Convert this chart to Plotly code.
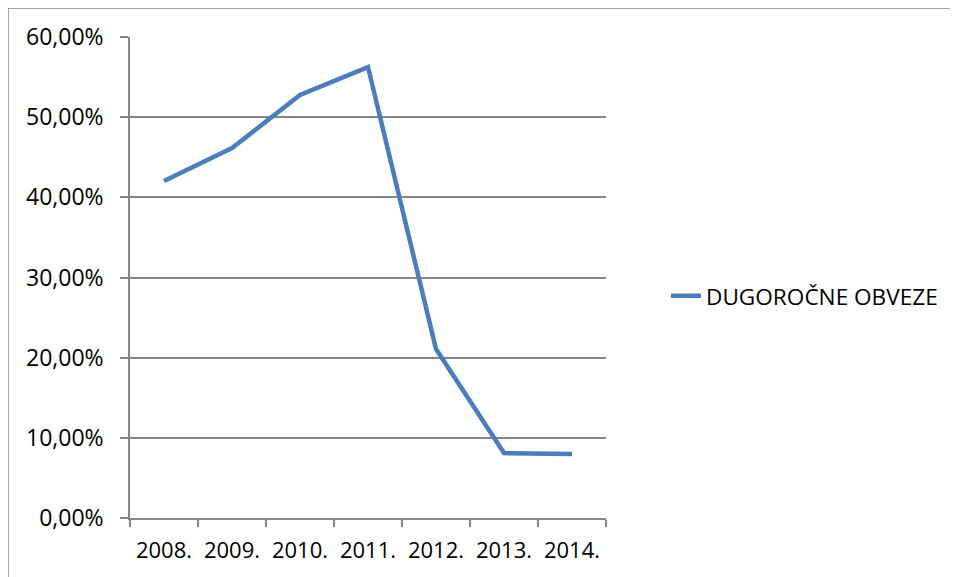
import plotly.graph_objects as go

years = ["2008.", "2009.", "2010.", "2011.", "2012.", "2013.", "2014."]
dugorocne = [0.4204, 0.4615, 0.5276, 0.5625, 0.2108, 0.0810, 0.0798]
series_name = "DUGOROČNE OBVEZE"
y_ticks = [0, 0.1, 0.2, 0.3, 0.4, 0.5, 0.6]

FONT = "Open Sans"
OFF = 8  # browser default body margin
W, H = 958 - OFF, 577 - OFF
L, R, T, B = 130 - OFF, 606 - OFF, 37 - OFF, 518 - OFF
pw, ph = R - L, B - T

fig = go.Figure()
fig.add_trace(go.Scatter(
    x=years, y=dugorocne, mode="lines", name=series_name,
    line=dict(color="#4A7EBB", width=4.5, shape="linear"),
))

grid = "#868686"
fig.update_layout(
    width=W, height=H,
    margin=dict(l=L, r=W - R, t=T, b=H - B, pad=0),
    paper_bgcolor="white", plot_bgcolor="white",
    separators=",.",
    font=dict(family=FONT, size=22, color="#000000"),
    showlegend=True,
    legend=dict(x=(666 - OFF - L) / pw, y=(B - (296 - OFF)) / ph, xanchor="left", yanchor="middle",
                font=dict(family=FONT, size=22.6, color="#000000"),
                bgcolor="rgba(0,0,0,0)"),
    xaxis=dict(type="category", showgrid=False, showline=True, linecolor=grid, linewidth=1.5,
               ticks="outside", ticklen=7, tickcolor=grid, tickwidth=1.5, tickson="boundaries",
               tickfont=dict(family=FONT, size=22), ticklabelstandoff=12, range=[-0.5, 6.5]),
    yaxis=dict(range=[0, 0.6], tickvals=y_ticks, tickformat=".2%", showgrid=True,
               gridcolor=grid, gridwidth=1.5, showline=True, linecolor=grid, linewidth=1.5,
               ticks="outside", ticklen=8, tickcolor=grid, tickwidth=1.5,
               tickfont=dict(family=FONT, size=23), ticklabelstandoff=12, zeroline=False),
    shapes=[dict(type="rect", xref="paper", yref="paper",
                 x0=(8 - OFF - L) / pw, x1=(965 - OFF - L) / pw,
                 y0=(B - (585 - OFF)) / ph, y1=(B - (8 - OFF)) / ph,
                 line=dict(color=grid, width=1.5), fillcolor="rgba(0,0,0,0)", layer="below")],
)

fig.write_html("out.html")
